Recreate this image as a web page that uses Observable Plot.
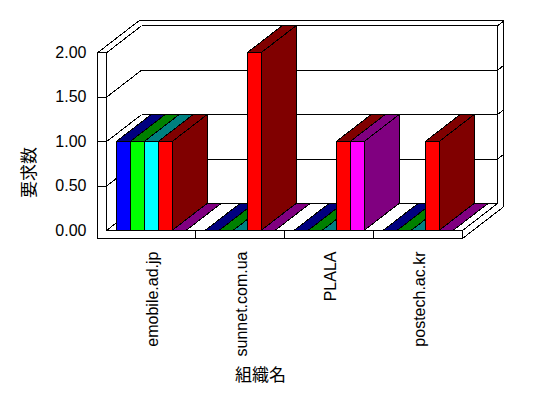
<!DOCTYPE html>
<html><head><meta charset="utf-8">
<script src="https://cdn.jsdelivr.net/npm/d3@7"></script>
<script src="https://cdn.jsdelivr.net/npm/@observablehq/plot@0.6"></script>
<style>html,body{margin:0;padding:0;background:#fff;} svg{display:block}</style>
</head><body><div id="chart"></div>
<script>
// ---- data ----
const categories = ["emobile.ad.jp", "sunnet.com.ua", "PLALA", "postech.ac.kr"];
const seriesBlue    = [1, 0, 0, 0];
const seriesLime    = [1, 0, 0, 0];
const seriesCyan    = [1, 0, 0, 0];
const seriesRed     = [1, 2, 1, 1];
const seriesMagenta = [0, 0, 1, 0];
const yTicks = [0, 0.5, 1, 1.5, 2];
const yTitle = "要求数";
const xTitle = "組織名";

// ---- style ----
const seriesValues = [seriesBlue, seriesLime, seriesCyan, seriesRed, seriesMagenta];
const frontColors = ["#0000ff", "#00ff00", "#00ffff", "#ff0000", "#ff00ff"];
const darkColors  = ["#000080", "#008000", "#008080", "#800000", "#800080"];
const CJK = "'Noto Sans CJK JP', sans-serif";

const W = 548, H = 398, mL = 106, mR = 86, mT = 52.3, mB = 168;
const nCat = categories.length;
const yMax = yTicks[yTicks.length - 1];
const bandPx = (W - mL - mR) / nCat;
const yPx = (H - mT - mB) / yMax;
const depthX = 35 / bandPx, depthY = 27 / yPx;   // depth offset in data units
const barOff = 9.5 / bandPx, barW = 14 / bandPx;
const wallT = 9 / bandPx, floorT = 8 / yPx, backT = 1.18;

const P = (X, Y, Z) => ({x: X + Z * depthX, y: Y + Z * depthY});

// bar faces
const faces = []; let fid = 0;
function face(pts, fill) { fid++; for (const p of pts) faces.push({id: fid, fill, ...p}); }
categories.forEach((c, i) => {
  seriesValues.forEach((vals, j) => {
    const v = vals[i];
    const x0 = i + barOff + j * barW, x1 = x0 + barW;
    if (v > 0) face([P(x0, 0, 0), P(x1, 0, 0), P(x1, v, 0), P(x0, v, 0)], frontColors[j]);
    face([P(x0, v, 0), P(x1, v, 0), P(x1, v, 1), P(x0, v, 1)], darkColors[j]);
    if (v > 0) face([P(x1, 0, 0), P(x1, 0, 1), P(x1, v, 1), P(x1, v, 0)], darkColors[j]);
  });
});

// wall / floor edges
const segs = [];
const seg = (a, b) => segs.push({x1: a.x, y1: a.y, x2: b.x, y2: b.y});
for (const t of yTicks) {
  seg(P(0, t, 1), P(nCat, t, 1));          // back wall grid
  seg(P(0, t, 0), P(0, t, 1));             // left wall inner grid
  if (t > 0) seg(P(-wallT, t, 0), P(0, t, 0));   // left wall front ticks
  if (t > 0 && t < yMax) seg(P(nCat, t, 1), P(nCat, t, backT)); // right end ticks
}
seg(P(-wallT, -floorT, 0), P(-wallT, yMax, 0));
seg(P(0, 0, 0), P(0, yMax, 0));
seg(P(-wallT, yMax, 0), P(-wallT, yMax, backT));
seg(P(-wallT, yMax, backT), P(nCat, yMax, backT));
seg(P(nCat, yMax, 1), P(nCat, yMax, backT));
seg(P(nCat, 0, 1), P(nCat, yMax, 1));
seg(P(nCat, -floorT, backT), P(nCat, yMax, backT));
seg(P(0, 0, 0), P(nCat, 0, 0));
seg(P(nCat, 0, 0), P(nCat, 0, 1));
seg(P(-wallT, -floorT, 0), P(nCat, -floorT, 0));
seg(P(nCat, -floorT, 0), P(nCat, 0, 0));
seg(P(nCat, -floorT, 0), P(nCat, -floorT, backT));
for (let k = 1; k < nCat; k++) seg(P(k, -floorT, 0), P(k, 0, 0));

const yTitlePos = 58 / yPx; // vertical centre of the rotated y title, in value units

const chart = Plot.plot({
  width: W, height: H,
  marginLeft: mL, marginRight: mR, marginTop: mT, marginBottom: mB,
  style: {fontFamily: "'Liberation Sans', Arial, sans-serif", fontSize: "16px", background: "#fff", color: "#000"},
  x: {domain: [0, nCat], axis: null},
  y: {domain: [0, yMax], axis: null},
  color: {type: "identity"},
  marks: [
    Plot.link(segs, {x1: "x1", y1: "y1", x2: "x2", y2: "y2", stroke: "#000", strokeWidth: 1, shapeRendering: "crispEdges"}),
    Plot.line(faces, {x: "x", y: "y", z: "id", fill: "fill", stroke: "#000", strokeWidth: 1, curve: "linear-closed", shapeRendering: "crispEdges"}),
    Plot.text(yTicks, {y: d => d, text: d => d3.format(".2f")(d), frameAnchor: "left", dx: -20, textAnchor: "end", lineAnchor: "middle", fontSize: 16}),
    Plot.text(categories, {x: (d, i) => i + 0.5, text: d => d, frameAnchor: "bottom", dx: 1.5, dy: 21, rotate: -90, textAnchor: "end", lineAnchor: "middle", fontSize: 16}),
    Plot.text([yTitle], {y: () => yTitlePos, text: d => d, frameAnchor: "left", dx: -77, rotate: -90, textAnchor: "middle", lineAnchor: "middle", fontSize: 17, fontFamily: CJK}),
    Plot.text([xTitle], {text: d => d, frameAnchor: "bottom", dx: -24, dy: 145, textAnchor: "middle", lineAnchor: "middle", fontSize: 17, fontFamily: CJK})
  ]
});
document.getElementById("chart").appendChild(chart);
</script>
</body></html>
